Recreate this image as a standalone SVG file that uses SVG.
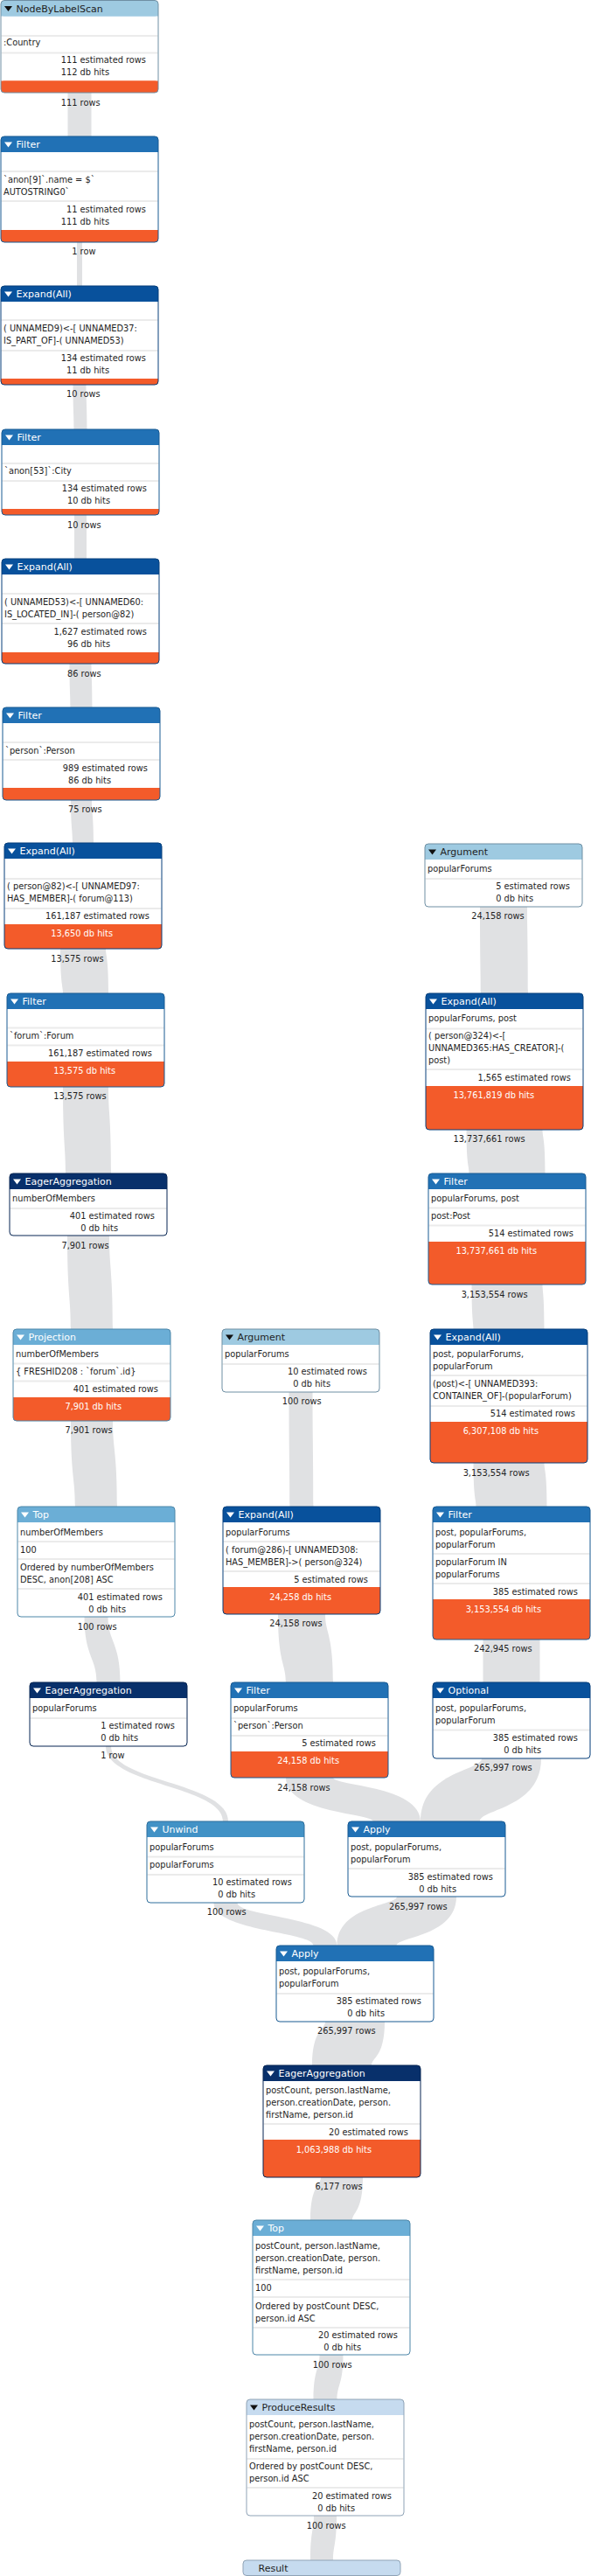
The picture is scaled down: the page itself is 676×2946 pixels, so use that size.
<svg xmlns="http://www.w3.org/2000/svg" width="676" height="2946" viewBox="0 0 676 2946">
<style>
text{font-family:"DejaVu Sans","Liberation Sans",sans-serif;font-size:9.8px;fill:#1e1e1e}
.hd{font-size:11px}
.num{text-anchor:end}
.w{fill:#fff}
.bg{fill:#fff}
.sep{stroke:#ebebeb;stroke-width:2}
.bar{fill:#f35b2a}
.ol{fill:none;stroke-width:1}
.band{fill:#e0e1e3}
.tw{fill:#fff}.tk{fill:#111}
.hA{fill:#9ecae1}.oA{stroke:#6f8fa3}
.hB{fill:#c6dbef}.oB{stroke:#8fa3b6}
.hC{fill:#6baed6}.oC{stroke:#4d86a8}
.hD{fill:#4292c6}.oD{stroke:#2f6f9b}
.hE{fill:#2171b5}.oE{stroke:#185a92}
.hF{fill:#08519c}.oF{stroke:#063f7a}
.hG{fill:#08306b}.oG{stroke:#062552}
</style>
<rect width="676" height="2946" fill="#fff"/>
<g id="connectors">
<path class="band" d="M104.5,106 L104.5,156 L77.5,156 L77.5,106 Z"/>
<path class="band" d="M94,277 L94,327 L88,327 L88,277 Z"/>
<path class="band" d="M98.5,440 C98.5,460.7 99.5,460.7 99.5,491 L84.5,491 C84.5,470.3 83.5,470.3 83.5,440 Z"/>
<path class="band" d="M99,589 L99,639 L85,639 L85,589 Z"/>
<path class="band" d="M104.5,759 C104.5,776 105.5,776 105.5,809 L80.5,809 C80.5,792 79.5,792 79.5,759 Z"/>
<path class="band" d="M105,915 C105,931.9 107,931.9 107,964 L83,964 C83,947.1 81,947.1 81,915 Z"/>
<path class="band" d="M121,1085 C121,1094.3 124,1094.3 124,1136 L72,1136 C72,1126.7 69,1126.7 69,1085 Z"/>
<path class="band" d="M124,1243 C124,1275.9 127,1275.9 127,1342 L75,1342 C75,1309.1 72,1309.1 72,1243 Z"/>
<path class="band" d="M125,1413 C125,1451.2 129,1451.2 129,1520 L81,1520 C81,1481.8 77,1481.8 77,1413 Z"/>
<path class="band" d="M129,1625 C129,1658.7 134,1658.7 134,1723 L86,1723 C86,1689.3 81,1689.3 81,1625 Z"/>
<path class="band" d="M123.5,1849 C123.5,1877.9 137.5,1877.9 137.5,1924 L110.5,1924 C110.5,1895.1 96.5,1895.1 96.5,1849 Z"/>
<path class="band" d="M127,1997 C127,2038.1 261,2038.1 261,2083 L255,2083 C255,2041.9 121,2041.9 121,1997 Z"/>
<path class="band" d="M603,1037 C603,1069.3 604,1069.3 604,1136 L550,1136 C550,1103.7 549,1103.7 549,1037 Z"/>
<path class="band" d="M620.5,1292 C620.5,1301.1 623.5,1301.1 623.5,1342 L536.5,1342 C536.5,1332.9 533.5,1332.9 533.5,1292 Z"/>
<path class="band" d="M620.5,1469 C620.5,1478.3 622.5,1478.3 622.5,1520 L541.5,1520 C541.5,1510.7 539.5,1510.7 539.5,1469 Z"/>
<path class="band" d="M622.5,1673 C622.5,1682.1 625.5,1682.1 625.5,1723 L544.5,1723 C544.5,1713.9 541.5,1713.9 541.5,1673 Z"/>
<path class="band" d="M617.5,1875 L617.5,1924 L552.5,1924 L552.5,1875 Z"/>
<path class="band" d="M619,2011 C619,2068.6 549,2068.6 549,2083 L481,2083 C481,2025.4 551,2025.4 551,2011 Z"/>
<path class="band" d="M357.5,1592 C357.5,1648.9 358.5,1648.9 358.5,1723 L331.5,1723 C331.5,1666.1 330.5,1666.1 330.5,1592 Z"/>
<path class="band" d="M372,1846 C372,1867.8 381,1867.8 381,1924 L327,1924 C327,1902.2 318,1902.2 318,1846 Z"/>
<path class="band" d="M381,2033 C381,2042.1 481,2042.1 481,2083 L427,2083 C427,2073.9 327,2073.9 327,2033 Z"/>
<path class="band" d="M271.5,2176 C271.5,2191.9 385.5,2191.9 385.5,2225 L358.5,2225 C358.5,2209.1 244.5,2209.1 244.5,2176 Z"/>
<path class="band" d="M522,2169 C522,2214.8 453.5,2214.8 453.5,2225 L385.5,2225 C385.5,2179.2 454,2179.2 454,2169 Z"/>
<path class="band" d="M440,2312 C440,2352.9 425,2352.9 425,2362 L357,2362 C357,2321.1 372,2321.1 372,2312 Z"/>
<path class="band" d="M415,2490 C415,2529.8 403,2529.8 403,2539 L355,2539 C355,2499.2 367,2499.2 367,2490 Z"/>
<path class="band" d="M392.5,2693 C392.5,2727.1 385.5,2727.1 385.5,2744 L358.5,2744 C358.5,2709.9 365.5,2709.9 365.5,2693 Z"/>
<path class="band" d="M385,2877 C385,2910.8 381,2910.8 381,2928 L355,2928 C355,2894.2 359,2894.2 359,2877 Z"/>
<text class="num" x="88.5" y="120.5">111</text><text x="91.6" y="120.5">rows</text>
<text class="num" x="88.5" y="290.5">1</text><text x="91.6" y="290.5">row</text>
<text class="num" x="88.5" y="453.5">10</text><text x="91.6" y="453.5">rows</text>
<text class="num" x="89.5" y="603.5">10</text><text x="92.6" y="603.5">rows</text>
<text class="num" x="89.5" y="773.5">86</text><text x="92.6" y="773.5">rows</text>
<text class="num" x="90.5" y="928.5">75</text><text x="93.6" y="928.5">rows</text>
<text class="num" x="92.5" y="1099.5">13,575</text><text x="95.6" y="1099.5">rows</text>
<text class="num" x="95.5" y="1256.5">13,575</text><text x="98.6" y="1256.5">rows</text>
<text class="num" x="98.5" y="1427.5">7,901</text><text x="101.6" y="1427.5">rows</text>
<text class="num" x="102.5" y="1638.5">7,901</text><text x="105.6" y="1638.5">rows</text>
<text class="num" x="107.5" y="1863.5">100</text><text x="110.6" y="1863.5">rows</text>
<text class="num" x="121.5" y="2010.5">1</text><text x="124.6" y="2010.5">row</text>
<text class="num" x="573.5" y="1050.5">24,158</text><text x="576.6" y="1050.5">rows</text>
<text class="num" x="574.5" y="1305.5">13,737,661</text><text x="577.6" y="1305.5">rows</text>
<text class="num" x="577.5" y="1483.5">3,153,554</text><text x="580.6" y="1483.5">rows</text>
<text class="num" x="579.5" y="1687.5">3,153,554</text><text x="582.6" y="1687.5">rows</text>
<text class="num" x="582.5" y="1888.5">242,945</text><text x="585.6" y="1888.5">rows</text>
<text class="num" x="582.5" y="2024.5">265,997</text><text x="585.6" y="2024.5">rows</text>
<text class="num" x="341.5" y="1605.5">100</text><text x="344.6" y="1605.5">rows</text>
<text class="num" x="342.5" y="1859.5">24,158</text><text x="345.6" y="1859.5">rows</text>
<text class="num" x="351.5" y="2047.5">24,158</text><text x="354.6" y="2047.5">rows</text>
<text class="num" x="255.5" y="2189.5">100</text><text x="258.6" y="2189.5">rows</text>
<text class="num" x="485.5" y="2183.5">265,997</text><text x="488.6" y="2183.5">rows</text>
<text class="num" x="403.5" y="2325.5">265,997</text><text x="406.6" y="2325.5">rows</text>
<text class="num" x="388.5" y="2503.5">6,177</text><text x="391.6" y="2503.5">rows</text>
<text class="num" x="376.5" y="2707.5">100</text><text x="379.6" y="2707.5">rows</text>
<text class="num" x="369.5" y="2891.5">100</text><text x="372.6" y="2891.5">rows</text>
</g>

<g id="n1" transform="translate(1,0.5)">
<rect class="bg" width="180" height="105.5" rx="4"/>
<rect class="hA" width="180" height="18" rx="4"/><rect class="hA" y="9" width="180" height="9"/>
<polygon class="tk" points="4,6.5 13,6.5 8.5,12.5"/><text class="hd" x="17.5" y="13">NodeByLabelScan</text>
<line class="sep" x1="0.5" x2="179.5" y1="40.5" y2="40.5"/>
<text x="3" y="51.5">:Country</text>
<line class="sep" x1="0.5" x2="179.5" y1="60" y2="60"/>
<text class="num" x="87.5" y="71.5">111</text><text x="90.6" y="71.5">estimated rows</text>
<text class="num" x="87.5" y="85.5">112</text><text x="90.6" y="85.5">db hits</text>
<rect class="bar" y="92" width="180" height="13.5" rx="4"/><rect class="bar" y="92" width="180" height="7"/>
<rect class="ol oA" width="180" height="105.5" rx="4"/>
</g>

<g id="n2" transform="translate(1,156)">
<rect class="bg" width="180" height="121" rx="4"/>
<rect class="hE" width="180" height="18" rx="4"/><rect class="hE" y="9" width="180" height="9"/>
<polygon class="tw" points="4,6.5 13,6.5 8.5,12.5"/><text class="hd w" x="17.5" y="13">Filter</text>
<line class="sep" x1="0.5" x2="179.5" y1="40" y2="40"/>
<text x="3" y="52.5">`anon[9]`.name = $`</text>
<text x="3" y="66.5">AUTOSTRING0`</text>
<line class="sep" x1="0.5" x2="179.5" y1="74" y2="74"/>
<text class="num" x="87.5" y="86.5">11</text><text x="90.6" y="86.5">estimated rows</text>
<text class="num" x="87.5" y="100.5">111</text><text x="90.6" y="100.5">db hits</text>
<rect class="bar" y="107" width="180" height="14" rx="4"/><rect class="bar" y="107" width="180" height="7"/>
<rect class="ol oE" width="180" height="121" rx="4"/>
</g>

<g id="n3" transform="translate(1,327)">
<rect class="bg" width="180" height="113" rx="4"/>
<rect class="hF" width="180" height="18" rx="4"/><rect class="hF" y="9" width="180" height="9"/>
<polygon class="tw" points="4,6.5 13,6.5 8.5,12.5"/><text class="hd w" x="17.5" y="13">Expand(All)</text>
<line class="sep" x1="0.5" x2="179.5" y1="39" y2="39"/>
<text x="3" y="51.5">( UNNAMED9)&lt;-[ UNNAMED37:</text>
<text x="3" y="65.5">IS_PART_OF]-( UNNAMED53)</text>
<line class="sep" x1="0.5" x2="179.5" y1="74" y2="74"/>
<text class="num" x="87.5" y="85.5">134</text><text x="90.6" y="85.5">estimated rows</text>
<text class="num" x="87.5" y="99.5">11</text><text x="90.6" y="99.5">db hits</text>
<rect class="bar" y="106" width="180" height="7" rx="4"/><rect class="bar" y="106" width="180" height="3.5"/>
<rect class="ol oF" width="180" height="113" rx="4"/>
</g>

<g id="n4" transform="translate(2,491)">
<rect class="bg" width="180" height="98" rx="4"/>
<rect class="hE" width="180" height="18" rx="4"/><rect class="hE" y="9" width="180" height="9"/>
<polygon class="tw" points="4,6.5 13,6.5 8.5,12.5"/><text class="hd w" x="17.5" y="13">Filter</text>
<line class="sep" x1="0.5" x2="179.5" y1="39" y2="39"/>
<text x="3" y="50.5">`anon[53]`:City</text>
<line class="sep" x1="0.5" x2="179.5" y1="59" y2="59"/>
<text class="num" x="87.5" y="70.5">134</text><text x="90.6" y="70.5">estimated rows</text>
<text class="num" x="87.5" y="84.5">10</text><text x="90.6" y="84.5">db hits</text>
<rect class="bar" y="91" width="180" height="7" rx="4"/><rect class="bar" y="91" width="180" height="3.5"/>
<rect class="ol oE" width="180" height="98" rx="4"/>
</g>

<g id="n5" transform="translate(2,639)">
<rect class="bg" width="180" height="120" rx="4"/>
<rect class="hF" width="180" height="18" rx="4"/><rect class="hF" y="9" width="180" height="9"/>
<polygon class="tw" points="4,6.5 13,6.5 8.5,12.5"/><text class="hd w" x="17.5" y="13">Expand(All)</text>
<line class="sep" x1="0.5" x2="179.5" y1="40" y2="40"/>
<text x="3" y="52.5">( UNNAMED53)&lt;-[ UNNAMED60:</text>
<text x="3" y="66.5">IS_LOCATED_IN]-( person@82)</text>
<line class="sep" x1="0.5" x2="179.5" y1="74" y2="74"/>
<text class="num" x="87.5" y="86.5">1,627</text><text x="90.6" y="86.5">estimated rows</text>
<text class="num" x="87.5" y="100.5">96</text><text x="90.6" y="100.5">db hits</text>
<rect class="bar" y="107" width="180" height="13" rx="4"/><rect class="bar" y="107" width="180" height="6.5"/>
<rect class="ol oF" width="180" height="120" rx="4"/>
</g>

<g id="n6" transform="translate(3,809)">
<rect class="bg" width="180" height="106" rx="4"/>
<rect class="hE" width="180" height="18" rx="4"/><rect class="hE" y="9" width="180" height="9"/>
<polygon class="tw" points="4,6.5 13,6.5 8.5,12.5"/><text class="hd w" x="17.5" y="13">Filter</text>
<line class="sep" x1="0.5" x2="179.5" y1="40" y2="40"/>
<text x="3" y="52.5">`person`:Person</text>
<line class="sep" x1="0.5" x2="179.5" y1="60" y2="60"/>
<text class="num" x="87.5" y="72.5">989</text><text x="90.6" y="72.5">estimated rows</text>
<text class="num" x="87.5" y="86.5">86</text><text x="90.6" y="86.5">db hits</text>
<rect class="bar" y="92" width="180" height="14" rx="4"/><rect class="bar" y="92" width="180" height="7"/>
<rect class="ol oE" width="180" height="106" rx="4"/>
</g>

<g id="n7" transform="translate(5,964)">
<rect class="bg" width="180" height="121" rx="4"/>
<rect class="hF" width="180" height="18" rx="4"/><rect class="hF" y="9" width="180" height="9"/>
<polygon class="tw" points="4,6.5 13,6.5 8.5,12.5"/><text class="hd w" x="17.5" y="13">Expand(All)</text>
<line class="sep" x1="0.5" x2="179.5" y1="41" y2="41"/>
<text x="3" y="52.5">( person@82)&lt;-[ UNNAMED97:</text>
<text x="3" y="66.5">HAS_MEMBER]-( forum@113)</text>
<line class="sep" x1="0.5" x2="179.5" y1="75" y2="75"/>
<text class="num" x="87.5" y="86.5">161,187</text><text x="90.6" y="86.5">estimated rows</text>
<rect class="bar" y="93" width="180" height="28" rx="4"/><rect class="bar" y="93" width="180" height="14"/>
<text class="num w" x="87.5" y="106.5">13,650</text><text class="w" x="90.6" y="106.5">db hits</text>
<rect class="ol oF" width="180" height="121" rx="4"/>
</g>

<g id="n8" transform="translate(8,1136)">
<rect class="bg" width="180" height="107" rx="4"/>
<rect class="hE" width="180" height="18" rx="4"/><rect class="hE" y="9" width="180" height="9"/>
<polygon class="tw" points="4,6.5 13,6.5 8.5,12.5"/><text class="hd w" x="17.5" y="13">Filter</text>
<line class="sep" x1="0.5" x2="179.5" y1="39.5" y2="39.5"/>
<text x="3" y="51.5">`forum`:Forum</text>
<line class="sep" x1="0.5" x2="179.5" y1="59.5" y2="59.5"/>
<text class="num" x="87.5" y="71.5">161,187</text><text x="90.6" y="71.5">estimated rows</text>
<rect class="bar" y="78" width="180" height="29" rx="4"/><rect class="bar" y="78" width="180" height="14"/>
<text class="num w" x="87.5" y="91.5">13,575</text><text class="w" x="90.6" y="91.5">db hits</text>
<rect class="ol oE" width="180" height="107" rx="4"/>
</g>

<g id="n9" transform="translate(11,1342)">
<rect class="bg" width="180" height="71" rx="4"/>
<rect class="hG" width="180" height="18" rx="4"/><rect class="hG" y="9" width="180" height="9"/>
<polygon class="tw" points="4,6.5 13,6.5 8.5,12.5"/><text class="hd w" x="17.5" y="13">EagerAggregation</text>
<text x="3" y="31.5">numberOfMembers</text>
<line class="sep" x1="0.5" x2="179.5" y1="40" y2="40"/>
<text class="num" x="87.5" y="51.5">401</text><text x="90.6" y="51.5">estimated rows</text>
<text class="num" x="87.5" y="65.5">0</text><text x="90.6" y="65.5">db hits</text>
<rect class="ol oG" width="180" height="71" rx="4"/>
</g>

<g id="n10" transform="translate(15,1520)">
<rect class="bg" width="180" height="105" rx="4"/>
<rect class="hC" width="180" height="18" rx="4"/><rect class="hC" y="9" width="180" height="9"/>
<polygon class="tw" points="4,6.5 13,6.5 8.5,12.5"/><text class="hd w" x="17.5" y="13">Projection</text>
<text x="3" y="31.5">numberOfMembers</text>
<line class="sep" x1="0.5" x2="179.5" y1="39.5" y2="39.5"/>
<text x="3" y="51.5">{ FRESHID208 : `forum`.id}</text>
<line class="sep" x1="0.5" x2="179.5" y1="59.5" y2="59.5"/>
<text class="num" x="87.5" y="71.5">401</text><text x="90.6" y="71.5">estimated rows</text>
<rect class="bar" y="78" width="180" height="27" rx="4"/><rect class="bar" y="78" width="180" height="13"/>
<text class="num w" x="87.5" y="91.5">7,901</text><text class="w" x="90.6" y="91.5">db hits</text>
<rect class="ol oC" width="180" height="105" rx="4"/>
</g>

<g id="n11" transform="translate(20,1723)">
<rect class="bg" width="180" height="126" rx="4"/>
<rect class="hC" width="180" height="18" rx="4"/><rect class="hC" y="9" width="180" height="9"/>
<polygon class="tw" points="4,6.5 13,6.5 8.5,12.5"/><text class="hd w" x="17.5" y="13">Top</text>
<text x="3" y="32.5">numberOfMembers</text>
<line class="sep" x1="0.5" x2="179.5" y1="40" y2="40"/>
<text x="3" y="52.5">100</text>
<line class="sep" x1="0.5" x2="179.5" y1="60" y2="60"/>
<text x="3" y="72.5">Ordered by numberOfMembers</text>
<text x="3" y="86.5">DESC, anon[208] ASC</text>
<line class="sep" x1="0.5" x2="179.5" y1="94" y2="94"/>
<text class="num" x="87.5" y="106.5">401</text><text x="90.6" y="106.5">estimated rows</text>
<text class="num" x="87.5" y="120.5">0</text><text x="90.6" y="120.5">db hits</text>
<rect class="ol oC" width="180" height="126" rx="4"/>
</g>

<g id="n12" transform="translate(34,1924)">
<rect class="bg" width="180" height="73" rx="4"/>
<rect class="hG" width="180" height="18" rx="4"/><rect class="hG" y="9" width="180" height="9"/>
<polygon class="tw" points="4,6.5 13,6.5 8.5,12.5"/><text class="hd w" x="17.5" y="13">EagerAggregation</text>
<text x="3" y="32.5">popularForums</text>
<line class="sep" x1="0.5" x2="179.5" y1="41" y2="41"/>
<text class="num" x="87.5" y="52.5">1</text><text x="90.6" y="52.5">estimated rows</text>
<text class="num" x="87.5" y="66.5">0</text><text x="90.6" y="66.5">db hits</text>
<rect class="ol oG" width="180" height="73" rx="4"/>
</g>

<g id="n13" transform="translate(486,965)">
<rect class="bg" width="180" height="72" rx="4"/>
<rect class="hA" width="180" height="18" rx="4"/><rect class="hA" y="9" width="180" height="9"/>
<polygon class="tk" points="4,6.5 13,6.5 8.5,12.5"/><text class="hd" x="17.5" y="13">Argument</text>
<text x="3" y="31.5">popularForums</text>
<line class="sep" x1="0.5" x2="179.5" y1="40" y2="40"/>
<text class="num" x="87.5" y="51.5">5</text><text x="90.6" y="51.5">estimated rows</text>
<text class="num" x="87.5" y="65.5">0</text><text x="90.6" y="65.5">db hits</text>
<rect class="ol oA" width="180" height="72" rx="4"/>
</g>

<g id="n14" transform="translate(487,1136)">
<rect class="bg" width="180" height="156" rx="4"/>
<rect class="hF" width="180" height="18" rx="4"/><rect class="hF" y="9" width="180" height="9"/>
<polygon class="tw" points="4,6.5 13,6.5 8.5,12.5"/><text class="hd w" x="17.5" y="13">Expand(All)</text>
<text x="3" y="31.5">popularForums, post</text>
<line class="sep" x1="0.5" x2="179.5" y1="40.5" y2="40.5"/>
<text x="3" y="51.5">( person@324)&lt;-[</text>
<text x="3" y="65.5">UNNAMED365:HAS_CREATOR]-(</text>
<text x="3" y="79.5">post)</text>
<line class="sep" x1="0.5" x2="179.5" y1="87" y2="87"/>
<text class="num" x="87.5" y="99.5">1,565</text><text x="90.6" y="99.5">estimated rows</text>
<rect class="bar" y="106" width="180" height="50" rx="4"/><rect class="bar" y="106" width="180" height="25"/>
<text class="num w" x="87.5" y="119.5">13,761,819</text><text class="w" x="90.6" y="119.5">db hits</text>
<rect class="ol oF" width="180" height="156" rx="4"/>
</g>

<g id="n15" transform="translate(490,1342)">
<rect class="bg" width="180" height="127" rx="4"/>
<rect class="hE" width="180" height="18" rx="4"/><rect class="hE" y="9" width="180" height="9"/>
<polygon class="tw" points="4,6.5 13,6.5 8.5,12.5"/><text class="hd w" x="17.5" y="13">Filter</text>
<text x="3" y="31.5">popularForums, post</text>
<line class="sep" x1="0.5" x2="179.5" y1="39.5" y2="39.5"/>
<text x="3" y="51.5">post:Post</text>
<line class="sep" x1="0.5" x2="179.5" y1="59.5" y2="59.5"/>
<text class="num" x="87.5" y="71.5">514</text><text x="90.6" y="71.5">estimated rows</text>
<rect class="bar" y="78" width="180" height="49" rx="4"/><rect class="bar" y="78" width="180" height="24"/>
<text class="num w" x="87.5" y="91.5">13,737,661</text><text class="w" x="90.6" y="91.5">db hits</text>
<rect class="ol oE" width="180" height="127" rx="4"/>
</g>

<g id="n16" transform="translate(492,1520)">
<rect class="bg" width="180" height="153" rx="4"/>
<rect class="hF" width="180" height="18" rx="4"/><rect class="hF" y="9" width="180" height="9"/>
<polygon class="tw" points="4,6.5 13,6.5 8.5,12.5"/><text class="hd w" x="17.5" y="13">Expand(All)</text>
<text x="3" y="31.5">post, popularForums,</text>
<text x="3" y="45.5">popularForum</text>
<line class="sep" x1="0.5" x2="179.5" y1="53" y2="53"/>
<text x="3" y="65.5">(post)&lt;-[ UNNAMED393:</text>
<text x="3" y="79.5">CONTAINER_OF]-(popularForum)</text>
<line class="sep" x1="0.5" x2="179.5" y1="88" y2="88"/>
<text class="num" x="87.5" y="99.5">514</text><text x="90.6" y="99.5">estimated rows</text>
<rect class="bar" y="106" width="180" height="47" rx="4"/><rect class="bar" y="106" width="180" height="23"/>
<text class="num w" x="87.5" y="119.5">6,307,108</text><text class="w" x="90.6" y="119.5">db hits</text>
<rect class="ol oF" width="180" height="153" rx="4"/>
</g>

<g id="n17" transform="translate(495,1723)">
<rect class="bg" width="180" height="152" rx="4"/>
<rect class="hE" width="180" height="18" rx="4"/><rect class="hE" y="9" width="180" height="9"/>
<polygon class="tw" points="4,6.5 13,6.5 8.5,12.5"/><text class="hd w" x="17.5" y="13">Filter</text>
<text x="3" y="32.5">post, popularForums,</text>
<text x="3" y="46.5">popularForum</text>
<line class="sep" x1="0.5" x2="179.5" y1="54" y2="54"/>
<text x="3" y="66.5">popularForum IN</text>
<text x="3" y="80.5">popularForums</text>
<line class="sep" x1="0.5" x2="179.5" y1="88" y2="88"/>
<text class="num" x="87.5" y="100.5">385</text><text x="90.6" y="100.5">estimated rows</text>
<rect class="bar" y="106" width="180" height="46" rx="4"/><rect class="bar" y="106" width="180" height="23"/>
<text class="num w" x="87.5" y="120.5">3,153,554</text><text class="w" x="90.6" y="120.5">db hits</text>
<rect class="ol oE" width="180" height="152" rx="4"/>
</g>

<g id="n18" transform="translate(495,1924)">
<rect class="bg" width="180" height="87" rx="4"/>
<rect class="hF" width="180" height="18" rx="4"/><rect class="hF" y="9" width="180" height="9"/>
<polygon class="tw" points="4,6.5 13,6.5 8.5,12.5"/><text class="hd w" x="17.5" y="13">Optional</text>
<text x="3" y="32.5">post, popularForums,</text>
<text x="3" y="46.5">popularForum</text>
<line class="sep" x1="0.5" x2="179.5" y1="54.5" y2="54.5"/>
<text class="num" x="87.5" y="66.5">385</text><text x="90.6" y="66.5">estimated rows</text>
<text class="num" x="87.5" y="80.5">0</text><text x="90.6" y="80.5">db hits</text>
<rect class="ol oF" width="180" height="87" rx="4"/>
</g>

<g id="n19" transform="translate(254,1520)">
<rect class="bg" width="180" height="72" rx="4"/>
<rect class="hA" width="180" height="18" rx="4"/><rect class="hA" y="9" width="180" height="9"/>
<polygon class="tk" points="4,6.5 13,6.5 8.5,12.5"/><text class="hd" x="17.5" y="13">Argument</text>
<text x="3" y="31.5">popularForums</text>
<line class="sep" x1="0.5" x2="179.5" y1="40" y2="40"/>
<text class="num" x="87.5" y="51.5">10</text><text x="90.6" y="51.5">estimated rows</text>
<text class="num" x="87.5" y="65.5">0</text><text x="90.6" y="65.5">db hits</text>
<rect class="ol oA" width="180" height="72" rx="4"/>
</g>

<g id="n20" transform="translate(255,1723)">
<rect class="bg" width="180" height="123" rx="4"/>
<rect class="hF" width="180" height="18" rx="4"/><rect class="hF" y="9" width="180" height="9"/>
<polygon class="tw" points="4,6.5 13,6.5 8.5,12.5"/><text class="hd w" x="17.5" y="13">Expand(All)</text>
<text x="3" y="32.5">popularForums</text>
<line class="sep" x1="0.5" x2="179.5" y1="40" y2="40"/>
<text x="3" y="52.5">( forum@286)-[ UNNAMED308:</text>
<text x="3" y="66.5">HAS_MEMBER]-&gt;( person@324)</text>
<line class="sep" x1="0.5" x2="179.5" y1="74" y2="74"/>
<text class="num" x="87.5" y="86.5">5</text><text x="90.6" y="86.5">estimated rows</text>
<rect class="bar" y="92" width="180" height="31" rx="4"/><rect class="bar" y="92" width="180" height="15"/>
<text class="num w" x="87.5" y="106.5">24,258</text><text class="w" x="90.6" y="106.5">db hits</text>
<rect class="ol oF" width="180" height="123" rx="4"/>
</g>

<g id="n21" transform="translate(264,1924)">
<rect class="bg" width="180" height="109" rx="4"/>
<rect class="hE" width="180" height="18" rx="4"/><rect class="hE" y="9" width="180" height="9"/>
<polygon class="tw" points="4,6.5 13,6.5 8.5,12.5"/><text class="hd w" x="17.5" y="13">Filter</text>
<text x="3" y="32.5">popularForums</text>
<line class="sep" x1="0.5" x2="179.5" y1="41" y2="41"/>
<text x="3" y="52.5">`person`:Person</text>
<line class="sep" x1="0.5" x2="179.5" y1="61" y2="61"/>
<text class="num" x="87.5" y="72.5">5</text><text x="90.6" y="72.5">estimated rows</text>
<rect class="bar" y="79" width="180" height="30" rx="4"/><rect class="bar" y="79" width="180" height="15"/>
<text class="num w" x="87.5" y="92.5">24,158</text><text class="w" x="90.6" y="92.5">db hits</text>
<rect class="ol oE" width="180" height="109" rx="4"/>
</g>

<g id="n22" transform="translate(168,2083)">
<rect class="bg" width="180" height="93" rx="4"/>
<rect class="hD" width="180" height="18" rx="4"/><rect class="hD" y="9" width="180" height="9"/>
<polygon class="tw" points="4,6.5 13,6.5 8.5,12.5"/><text class="hd w" x="17.5" y="13">Unwind</text>
<text x="3" y="32.5">popularForums</text>
<line class="sep" x1="0.5" x2="179.5" y1="40.5" y2="40.5"/>
<text x="3" y="52.5">popularForums</text>
<line class="sep" x1="0.5" x2="179.5" y1="61" y2="61"/>
<text class="num" x="87.5" y="72.5">10</text><text x="90.6" y="72.5">estimated rows</text>
<text class="num" x="87.5" y="86.5">0</text><text x="90.6" y="86.5">db hits</text>
<rect class="ol oD" width="180" height="93" rx="4"/>
</g>

<g id="n23" transform="translate(398,2083)">
<rect class="bg" width="180" height="86" rx="4"/>
<rect class="hE" width="180" height="18" rx="4"/><rect class="hE" y="9" width="180" height="9"/>
<polygon class="tw" points="4,6.5 13,6.5 8.5,12.5"/><text class="hd w" x="17.5" y="13">Apply</text>
<text x="3" y="32.5">post, popularForums,</text>
<text x="3" y="46.5">popularForum</text>
<line class="sep" x1="0.5" x2="179.5" y1="54" y2="54"/>
<text class="num" x="87.5" y="66.5">385</text><text x="90.6" y="66.5">estimated rows</text>
<text class="num" x="87.5" y="80.5">0</text><text x="90.6" y="80.5">db hits</text>
<rect class="ol oE" width="180" height="86" rx="4"/>
</g>

<g id="n24" transform="translate(316,2225)">
<rect class="bg" width="180" height="87" rx="4"/>
<rect class="hE" width="180" height="18" rx="4"/><rect class="hE" y="9" width="180" height="9"/>
<polygon class="tw" points="4,6.5 13,6.5 8.5,12.5"/><text class="hd w" x="17.5" y="13">Apply</text>
<text x="3" y="32.5">post, popularForums,</text>
<text x="3" y="46.5">popularForum</text>
<line class="sep" x1="0.5" x2="179.5" y1="55" y2="55"/>
<text class="num" x="87.5" y="66.5">385</text><text x="90.6" y="66.5">estimated rows</text>
<text class="num" x="87.5" y="80.5">0</text><text x="90.6" y="80.5">db hits</text>
<rect class="ol oE" width="180" height="87" rx="4"/>
</g>

<g id="n25" transform="translate(301,2362)">
<rect class="bg" width="180" height="128" rx="4"/>
<rect class="hG" width="180" height="18" rx="4"/><rect class="hG" y="9" width="180" height="9"/>
<polygon class="tw" points="4,6.5 13,6.5 8.5,12.5"/><text class="hd w" x="17.5" y="13">EagerAggregation</text>
<text x="3" y="31.5">postCount, person.lastName,</text>
<text x="3" y="45.5">person.creationDate, person.</text>
<text x="3" y="59.5">firstName, person.id</text>
<line class="sep" x1="0.5" x2="179.5" y1="67" y2="67"/>
<text class="num" x="87.5" y="79.5">20</text><text x="90.6" y="79.5">estimated rows</text>
<rect class="bar" y="85" width="180" height="43" rx="4"/><rect class="bar" y="85" width="180" height="21"/>
<text class="num w" x="87.5" y="99.5">1,063,988</text><text class="w" x="90.6" y="99.5">db hits</text>
<rect class="ol oG" width="180" height="128" rx="4"/>
</g>

<g id="n26" transform="translate(289,2539)">
<rect class="bg" width="180" height="154" rx="4"/>
<rect class="hC" width="180" height="18" rx="4"/><rect class="hC" y="9" width="180" height="9"/>
<polygon class="tw" points="4,6.5 13,6.5 8.5,12.5"/><text class="hd w" x="17.5" y="13">Top</text>
<text x="3" y="32.5">postCount, person.lastName,</text>
<text x="3" y="46.5">person.creationDate, person.</text>
<text x="3" y="60.5">firstName, person.id</text>
<line class="sep" x1="0.5" x2="179.5" y1="68" y2="68"/>
<text x="3" y="80.5">100</text>
<line class="sep" x1="0.5" x2="179.5" y1="88" y2="88"/>
<text x="3" y="101.5">Ordered by postCount DESC,</text>
<text x="3" y="115.5">person.id ASC</text>
<line class="sep" x1="0.5" x2="179.5" y1="123" y2="123"/>
<text class="num" x="87.5" y="134.5">20</text><text x="90.6" y="134.5">estimated rows</text>
<text class="num" x="87.5" y="148.5">0</text><text x="90.6" y="148.5">db hits</text>
<rect class="ol oC" width="180" height="154" rx="4"/>
</g>

<g id="n27" transform="translate(282,2744)">
<rect class="bg" width="180" height="133" rx="4"/>
<rect class="hB" width="180" height="18" rx="4"/><rect class="hB" y="9" width="180" height="9"/>
<polygon class="tk" points="4,6.5 13,6.5 8.5,12.5"/><text class="hd" x="17.5" y="13">ProduceResults</text>
<text x="3" y="31.5">postCount, person.lastName,</text>
<text x="3" y="45.5">person.creationDate, person.</text>
<text x="3" y="59.5">firstName, person.id</text>
<line class="sep" x1="0.5" x2="179.5" y1="68" y2="68"/>
<text x="3" y="79.5">Ordered by postCount DESC,</text>
<text x="3" y="93.5">person.id ASC</text>
<line class="sep" x1="0.5" x2="179.5" y1="101" y2="101"/>
<text class="num" x="87.5" y="113.5">20</text><text x="90.6" y="113.5">estimated rows</text>
<text class="num" x="87.5" y="127.5">0</text><text x="90.6" y="127.5">db hits</text>
<rect class="ol oB" width="180" height="133" rx="4"/>
</g>

<g id="n28" transform="translate(278,2928)">
<rect class="hB" width="180" height="17.5" rx="4"/>
<text class="hd" x="17.5" y="13">Result</text>
<rect class="ol oB" width="180" height="17.5" rx="4"/>
</g>
</svg>
